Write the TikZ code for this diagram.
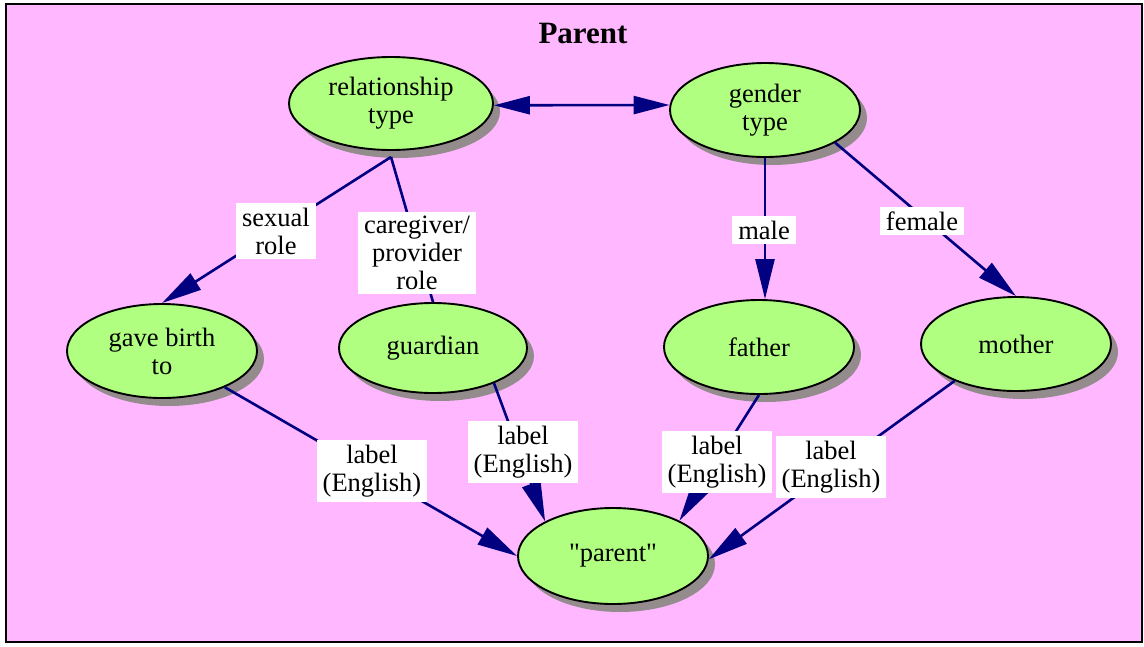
\documentclass[tikz,border=0pt]{standalone}
\usepackage{fontspec}
\setmainfont{Liberation Serif}
\newfontfamily\rawserif{Liberation Serif}[Ligatures=TeXOff]
\usetikzlibrary{shapes.geometric,arrows.meta,shadows}
\definecolor{bgpink}{RGB}{255,184,255}
\definecolor{nodegreen}{RGB}{176,255,128}
\definecolor{shadowgray}{RGB}{148,140,140}
\definecolor{edgenavy}{RGB}{0,0,128}
\tikzset{
  concept/.style={ellipse, draw=black, line width=1.9pt, fill=nodegreen, inner sep=0pt,
    minimum width=190pt, minimum height=94pt, align=center,
    font=\fontsize{26.5}{28}\selectfont,
    drop shadow={shadow xshift=7pt, shadow yshift=-8pt, fill=shadowgray, opacity=1}},
  edgelabel/.style={fill=white, inner xsep=6pt, inner ysep=4.5pt, align=center,
    font=\fontsize{26.5}{28}\selectfont},
  link/.style={draw=edgenavy, line width=2.6pt},
  arr/.style={link, -{Triangle[length=40pt,width=19pt]}},
  darr/.style={link, {Triangle[length=36pt,width=18pt]}-{Triangle[length=36pt,width=18pt]}}
}
\begin{document}
\begin{tikzpicture}[x=1pt,y=-1pt]
\useasboundingbox (0,0) rectangle (1144,646);
\fill[white] (0,0) rectangle (1144,646);
\draw[line width=2.5pt, fill=bgpink] (6,4) rectangle (1142,642);
\node[font=\fontsize{31}{33}\selectfont\bfseries] (title) at (583,33) {Parent};

\node[concept, minimum width=204pt, minimum height=93pt] (rel) at (391,103.5) {relationship\\type};
\node[concept] (gt) at (765,110) {gender\\type};
\node[concept] (gb) at (162,351) {gave birth\\to};
\node[concept, minimum width=188pt, minimum height=90pt] (gd) at (433,348) {guardian};
\node[concept] (fa) at (759,347) {father};
\node[concept] (mo) at (1016,344) {mother};
\node[concept, minimum height=96pt] (pa) at (613,556) {{\rawserif "parent"}};

\coordinate (P) at (391,157);

\draw[darr] (rel.-1) -- (gt.177);
\draw[arr] (P) -- (gb.north);
\draw[link] (P) -- (gd.north);
\draw[arr] (gt.south) -- (gt.south |- fa.north);
\draw[arr] (gt.-25) -- (mo.north);
\draw[arr] (gb.-30) -- (pa.west);
\draw[arr] (gd.-30) -- (pa.153);
\draw[arr] (fa.south) -- (pa.28);
\draw[arr] (mo.-149) -- (pa.-2);

\node[edgelabel] (l1) at (276,231) {sexual\\role};
\node[edgelabel] (l2) at (417,253) {caregiver/\\provider\\role};
\node[edgelabel] (l3) at (764,230) {male};
\node[edgelabel] (l4) at (922,221) {female};
\node[edgelabel] (l5) at (372,471) {label\\(English)};
\node[edgelabel] (l6) at (523,452) {label\\(English)};
\node[edgelabel] (l7) at (717,462) {label\\(English)};
\node[edgelabel] (l8) at (831,467) {label\\(English)};
\end{tikzpicture}
\end{document}
